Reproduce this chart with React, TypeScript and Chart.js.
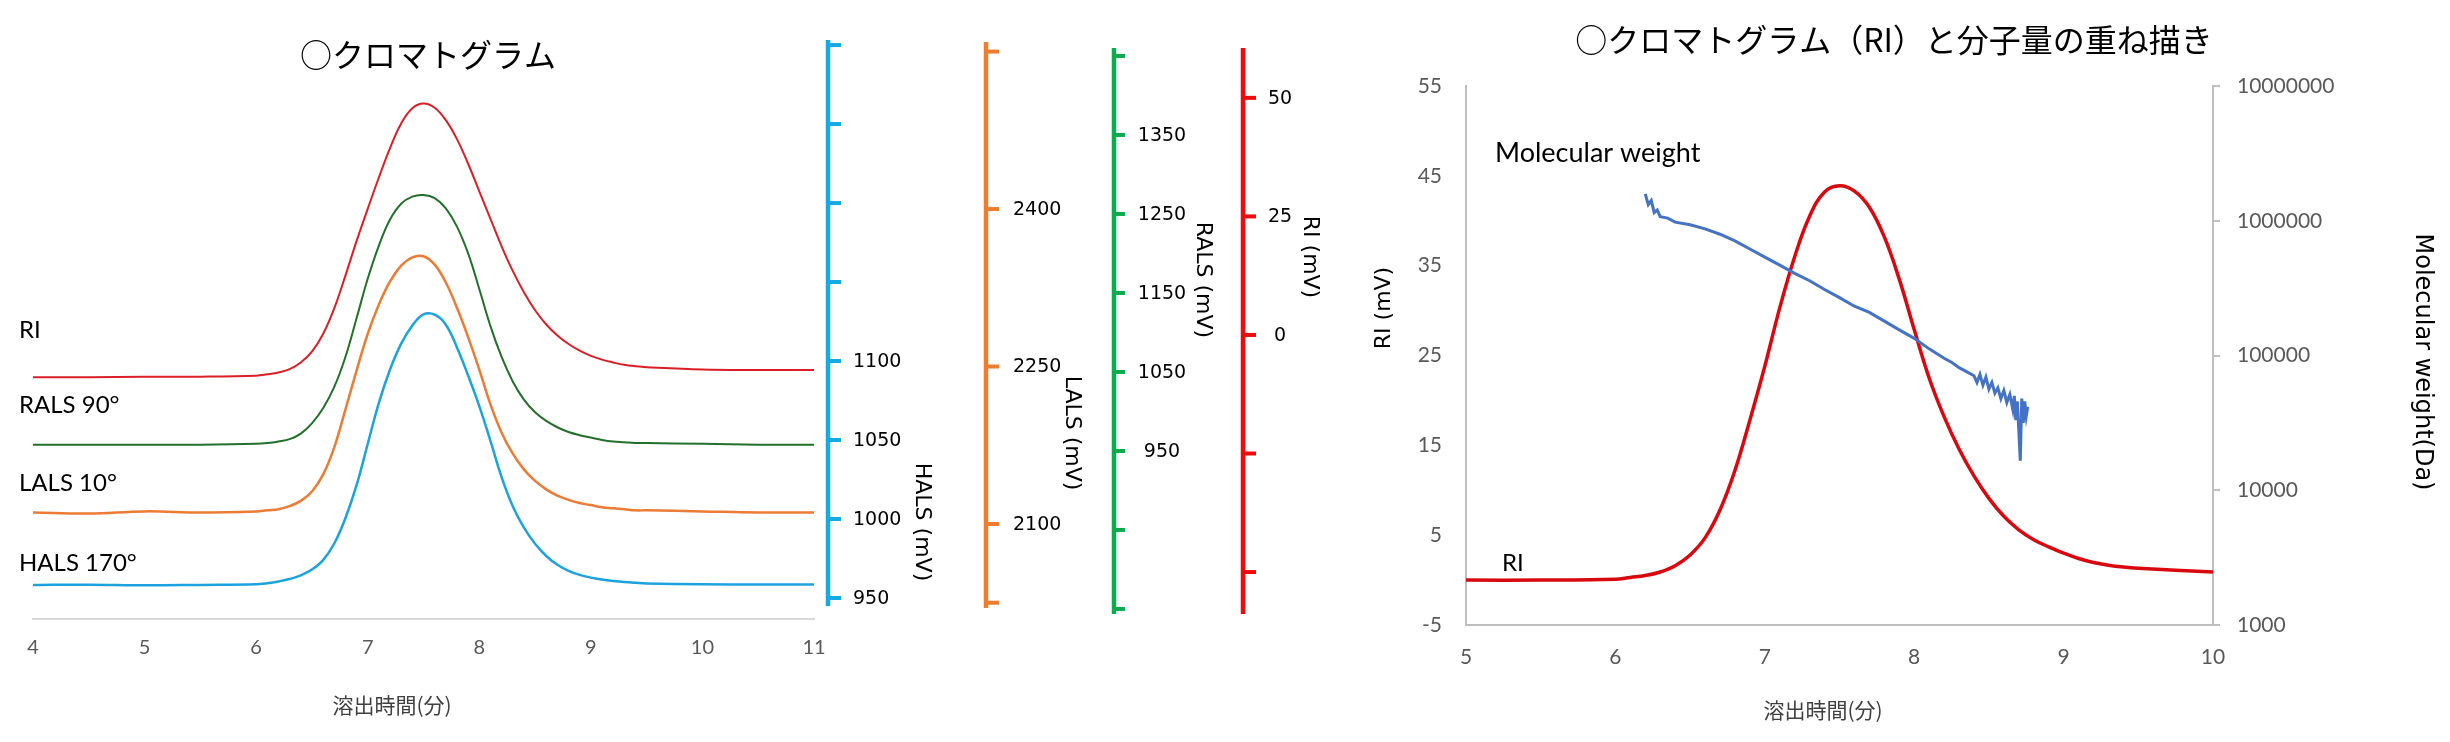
import React, { useEffect, useRef } from "react";
import { Chart, registerables } from "chart.js";

Chart.register(...registerables);

// ---- left panel: four detector traces (elution time, min) ----
const elutionTimes = [
  4.0, 4.5, 5.0, 5.5, 6.0, 6.1, 6.2, 6.3, 6.4, 6.5, 6.6, 6.7, 6.8, 6.9, 7.0,
  7.1, 7.2, 7.3, 7.4, 7.5, 7.6, 7.7, 7.8, 7.9, 8.0, 8.1, 8.2, 8.3, 8.4, 8.5,
  8.6, 8.7, 8.8, 8.9, 9.0, 9.1, 9.2, 9.3, 9.4, 9.5, 10.0, 10.5, 11.0,
];
const riSignal = [
  -8.9, -8.9, -8.8, -8.8, -8.6, -8.3, -7.9, -7.2, -5.8, -3.5, 0.2, 5.6, 12.5, 19.8, 26.6,
  33.2, 39.4, 44.6, 47.8, 48.8, 47.9, 45.3, 41.3, 36.1, 30.3, 24.5, 18.7, 13.5, 9.0, 5.2,
  2.2, -0.1, -1.9, -3.3, -4.4, -5.2, -5.8, -6.3, -6.6, -6.8, -7.3, -7.4, -7.4,
];
const ralsSignal = [
  958, 958, 958, 958, 959, 960, 962, 965, 972, 985, 1004, 1031, 1069, 1118, 1168,
  1210, 1243, 1263, 1272, 1274, 1270, 1257, 1234, 1200, 1155, 1108, 1069, 1038, 1015, 999,
  988, 980, 974, 970, 967, 964, 962, 961, 960, 960, 959, 958, 958,
];
const lalsSignal = [
  2111, 2110, 2112, 2111, 2112, 2113, 2114, 2117, 2122, 2131, 2147, 2173, 2209, 2246, 2281,
  2309, 2331, 2346, 2354, 2355, 2347, 2330, 2306, 2278, 2247, 2214, 2187, 2167, 2152, 2141,
  2133, 2127, 2123, 2120, 2118, 2116, 2115, 2114, 2113, 2113, 2112, 2111, 2111,
];
const halsSignal = [
  958.2, 958.4, 958.0, 958.3, 958.7, 959.4, 960.5, 962.0, 964.3, 968.0, 974.0, 984.5, 1000.5, 1021.4, 1047.5,
  1073.5, 1094.6, 1111.0, 1122.5, 1129.5, 1129.3, 1123.0, 1108.6, 1090.8, 1071.5, 1049.5, 1026.5, 1008.0, 994.5, 984.3,
  976.6, 971.0, 967.2, 964.6, 962.9, 961.7, 960.8, 960.1, 959.6, 959.2, 958.7, 958.5, 958.5,
];
const seriesNames = ["RI", "RALS 90°", "LALS 10°", "HALS 170°"];

// detector axes: tick positions and the ones that carry a label
const halsTicks = [950, 1000, 1050, 1100, 1150, 1200, 1250, 1300];
const halsLabels = [950, 1000, 1050, 1100];
const lalsTicks = [2025, 2100, 2250, 2400, 2550];
const lalsLabels = [2100, 2250, 2400];
const ralsTicks = [750, 850, 950, 1050, 1150, 1250, 1350, 1450];
const ralsLabels = [950, 1050, 1150, 1250, 1350];
const riTicks = [-50, -25, 0, 25, 50];
const riLabels = [0, 25, 50];

// ---- right panel: RI overlaid with molecular weight ----
const overlayTimes = [
  5.0, 5.5, 6.0, 6.1, 6.2, 6.3, 6.4, 6.5, 6.6, 6.7, 6.8, 6.9, 7.0, 7.1, 7.2,
  7.3, 7.4, 7.5, 7.6, 7.7, 7.8, 7.9, 8.0, 8.1, 8.2, 8.3, 8.4, 8.5, 8.6, 8.7,
  8.8, 8.9, 9.0, 9.1, 9.2, 9.3, 9.4, 9.5, 10.0,
];
const overlayRi = [
  0.0, 0.0, 0.1, 0.3, 0.5, 0.9, 1.6, 2.8, 4.7, 7.8, 12.2, 17.8, 23.8, 30.3, 36.0,
  40.5, 43.2, 43.9, 43.3, 41.5, 38.2, 33.5, 27.9, 22.5, 18.2, 14.6, 11.6, 9.1, 7.1, 5.6,
  4.5, 3.7, 3.0, 2.4, 1.95, 1.65, 1.45, 1.32, 0.9,
];
const mwTimes = [
  6.20, 6.22, 6.24, 6.26, 6.28, 6.30, 6.35, 6.40, 6.50, 6.60, 6.70, 6.80, 6.90, 7.00,
  7.10, 7.20, 7.30, 7.40, 7.50, 7.60, 7.70, 7.80, 7.90, 8.00, 8.10, 8.20, 8.25, 8.30,
  8.35, 8.40, 8.42, 8.44, 8.46, 8.48, 8.50, 8.52, 8.54, 8.56, 8.58, 8.60, 8.62, 8.64,
  8.66, 8.67, 8.68, 8.69, 8.70, 8.71, 8.72, 8.73, 8.74, 8.75, 8.76,
];
const mwValues = [
  1585000, 1318000, 1413000, 1148000, 1202000, 1072000, 1047000, 977000, 933000, 871000, 794000, 708000, 617000, 537000,
  468000, 407000, 359000, 309000, 269000, 232000, 209000, 180000, 155000, 134000, 112000, 95500, 89100, 81300,
  75900, 70800, 63100, 72400, 60300, 69200, 56200, 63100, 52500, 57500, 47900, 55000, 44700, 51300,
  39800, 50100, 33100, 45700, 28200, 16600, 47900, 31600, 45700, 35500, 41700,
];
const mwTicks = [1000, 10000, 100000, 1000000, 10000000];

const TITLE_LEFT = "○クロマトグラム";
const TITLE_RIGHT = "○クロマトグラム（RI）と分子量の重ね描き";
const X_TITLE = "溶出時間(分)";

const JP = '"Noto Sans CJK JP", sans-serif';
const LATIN = 'Lato, "Noto Sans", sans-serif';
const DEJAVU = '"DejaVu Sans", sans-serif';

const pts = (xs: number[], ys: number[]) => xs.map((x, i) => ({ x, y: ys[i] }));

type TextItem = {
  text: string;
  x: number;
  y: number;
  font: string;
  color?: string;
  align?: CanvasTextAlign;
  rotate?: number;
};

const textPlugin = (id: string, items: TextItem[]) => ({
  id,
  afterDraw(chart: any) {
    const ctx = chart.ctx as CanvasRenderingContext2D;
    items.forEach((t) => {
      ctx.save();
      ctx.translate(t.x, t.y);
      if (t.rotate) ctx.rotate((t.rotate * Math.PI) / 180);
      ctx.font = t.font;
      ctx.fillStyle = t.color || "#000";
      ctx.textAlign = t.align || "center";
      ctx.textBaseline = "middle";
      ctx.fillText(t.text, 0, 0);
      ctx.restore();
    });
  },
});

// the coloured detector axes, drawn through the (hidden) chart.js y scales
const detectorAxes = [
  { id: "yHals", color: "#14AAE6", x: 828, top: 40, bottom: 606, ticks: halsTicks, labels: halsLabels, tickLen: 13, labelX: 853, align: "left", title: "HALS (mV)", titleX: 922, titleY: 522 },
  { id: "yLals", color: "#ED7D31", x: 986, top: 42, bottom: 608, ticks: lalsTicks, labels: lalsLabels, tickLen: 13, labelX: 1013, align: "left", title: "LALS (mV)", titleX: 1072, titleY: 433 },
  { id: "yRals", color: "#0DAA4F", x: 1114, top: 48, bottom: 614, ticks: ralsTicks, labels: ralsLabels, tickLen: 11, labelX: 1162, align: "center", title: "RALS (mV)", titleX: 1203, titleY: 280 },
  { id: "yRi", color: "#EE0B0B", x: 1243, top: 48, bottom: 614, ticks: riTicks, labels: riLabels, tickLen: 13, labelX: 1280, align: "center", title: "RI (mV)", titleX: 1310, titleY: 257 },
];

const detectorAxesPlugin = {
  id: "detectorAxes",
  afterDraw(chart: any) {
    const ctx = chart.ctx as CanvasRenderingContext2D;
    detectorAxes.forEach((ax) => {
      const scale = chart.scales[ax.id];
      ctx.save();
      ctx.strokeStyle = ax.color;
      ctx.lineWidth = 4.5;
      ctx.beginPath();
      ctx.moveTo(ax.x, ax.top);
      ctx.lineTo(ax.x, ax.bottom);
      ctx.stroke();
      ctx.lineWidth = 4;
      ax.ticks.forEach((v) => {
        const y = scale.getPixelForValue(v);
        ctx.beginPath();
        ctx.moveTo(ax.x, y);
        ctx.lineTo(ax.x + ax.tickLen, y);
        ctx.stroke();
      });
      ctx.fillStyle = "#000";
      ctx.font = `19px ${DEJAVU}`;
      ctx.textAlign = ax.align as CanvasTextAlign;
      ctx.textBaseline = "middle";
      ax.labels.forEach((v) => {
        ctx.fillText(String(v), ax.labelX, scale.getPixelForValue(v) + 1);
      });
      ctx.translate(ax.titleX, ax.titleY);
      ctx.rotate(Math.PI / 2);
      ctx.font = `22px ${DEJAVU}`;
      ctx.textAlign = "center";
      ctx.fillText(ax.title, 0, 0);
      ctx.restore();
    });
  },
};

function DetectorChart() {
  const canvasRef = useRef<HTMLCanvasElement>(null);

  useEffect(() => {
    if (!canvasRef.current) return;
    const line = (data: number[], yAxisID: string, color: string, width: number) => ({
      data: pts(elutionTimes, data),
      yAxisID,
      borderColor: color,
      borderWidth: width,
      pointRadius: 0,
      tension: 0.4,
      fill: false,
    });
    const chart = new Chart(canvasRef.current, {
      type: "line",
      data: {
        datasets: [
          { label: seriesNames[0], ...line(riSignal, "yRi", "#DA1F26", 2) },
          { label: seriesNames[1], ...line(ralsSignal, "yRals", "#23702A", 2) },
          { label: seriesNames[2], ...line(lalsSignal, "yLals", "#EB7B35", 2.5) },
          { label: seriesNames[3], ...line(halsSignal, "yHals", "#1CA3DE", 2.5) },
        ],
      },
      options: {
        responsive: false,
        animation: false,
        events: [],
        layout: { padding: { left: 33, right: 526, top: 40, bottom: 0 } },
        plugins: { legend: { display: false }, tooltip: { enabled: false } },
        scales: {
          x: {
            type: "linear",
            min: 4,
            max: 11,
            ticks: { stepSize: 1, color: "#595959", font: { family: LATIN, size: 20 }, padding: 17 },
            grid: { display: false, drawTicks: false },
            border: { color: "#D9D9D9", width: 2 },
            afterFit: (s: any) => { s.height = 123; },
          },
          yHals: { type: "linear", display: false, min: 936.7, max: 1303.2 },
          yLals: { type: "linear", display: false, min: 2009.5, max: 2561.0 },
          yRals: { type: "linear", display: false, min: 737.3, max: 1470.2 },
          yRi: { type: "linear", display: false, min: -59.9, max: 62.2 },
        },
      },
      plugins: [
        detectorAxesPlugin,
        textPlugin("leftTexts", [
          { text: TITLE_LEFT, x: 428, y: 55, font: `32px ${JP}` },
          { text: seriesNames[0], x: 19, y: 330, font: `24px ${LATIN}`, align: "left" },
          { text: seriesNames[1], x: 19, y: 405, font: `24px ${LATIN}`, align: "left" },
          { text: seriesNames[2], x: 19, y: 483, font: `24px ${LATIN}`, align: "left" },
          { text: seriesNames[3], x: 19, y: 563, font: `24px ${LATIN}`, align: "left" },
          { text: X_TITLE, x: 392, y: 705, font: `21px ${JP}`, color: "#404040" },
        ]),
      ],
    } as any);
    return () => chart.destroy();
  }, []);

  return (
    <canvas
      ref={canvasRef}
      width={1340}
      height={742}
      style={{ position: "absolute", left: 0, top: 0 }}
    />
  );
}

function OverlayChart() {
  const canvasRef = useRef<HTMLCanvasElement>(null);

  useEffect(() => {
    if (!canvasRef.current) return;
    const chart = new Chart(canvasRef.current, {
      type: "line",
      data: {
        datasets: [
          {
            label: "Molecular weight",
            data: pts(mwTimes, mwValues),
            yAxisID: "yMw",
            borderColor: "#4472C4",
            borderWidth: 3,
            pointRadius: 0,
            tension: 0,
          },
          {
            label: "RI",
            data: pts(overlayTimes, overlayRi),
            yAxisID: "yRi",
            borderColor: "#D9080F",
            borderWidth: 3.5,
            pointRadius: 0,
            tension: 0.4,
          },
        ],
      },
      options: {
        responsive: false,
        animation: false,
        events: [],
        layout: { padding: { left: 0, right: 0, top: 86, bottom: 0 } },
        plugins: { legend: { display: false }, tooltip: { enabled: false } },
        scales: {
          x: {
            type: "linear",
            min: 5,
            max: 10,
            ticks: { stepSize: 1, color: "#595959", font: { family: LATIN, size: 21 }, padding: 20 },
            grid: { display: false, drawTicks: false },
            border: { color: "#BFBFBF", width: 2 },
            afterFit: (s: any) => { s.height = 117; },
          },
          yRi: {
            type: "linear",
            position: "left",
            min: -5,
            max: 55,
            ticks: { stepSize: 10, color: "#595959", font: { family: LATIN, size: 21 }, padding: 24 },
            grid: { display: false, drawTicks: false },
            border: { color: "#BFBFBF", width: 2 },
            afterFit: (s: any) => { s.width = 126; },
          },
          yMw: {
            type: "logarithmic",
            position: "right",
            min: 1000,
            max: 10000000,
            afterBuildTicks: (s: any) => { s.ticks = mwTicks.map((value) => ({ value })); },
            ticks: {
              color: "#595959",
              font: { family: LATIN, size: 21 },
              padding: 17,
              callback: (v: any) => String(v),
            },
            grid: { display: true, drawOnChartArea: false, drawTicks: true, tickLength: 7, color: "#BFBFBF", lineWidth: 2 },
            border: { color: "#BFBFBF", width: 2 },
            afterFit: (s: any) => { s.width = 237; },
          },
        },
      },
      plugins: [
        textPlugin("rightTexts", [
          { text: TITLE_RIGHT, x: 554, y: 40, font: `32px ${JP}` },
          { text: "RI (mV)", x: 44, y: 308, font: `22px ${DEJAVU}`, rotate: -90 },
          { text: "Molecular weight(Da)", x: 1082, y: 362, font: `24px ${DEJAVU}`, rotate: 90 },
          { text: "Molecular weight", x: 155, y: 153, font: `27px ${LATIN}`, align: "left" },
          { text: "RI", x: 162, y: 563, font: `24px ${LATIN}`, align: "left" },
          { text: X_TITLE, x: 483, y: 710, font: `21px ${JP}`, color: "#404040" },
        ]),
      ],
    } as any);
    return () => chart.destroy();
  }, []);

  return (
    <canvas
      ref={canvasRef}
      width={1110}
      height={742}
      style={{ position: "absolute", left: 1340, top: 0 }}
    />
  );
}

export default function App() {
  return (
    <div
      style={{
        position: "absolute",
        left: 0,
        top: 0,
        width: 2450,
        height: 742,
        background: "#fff",
        overflow: "hidden",
      }}
    >
      <DetectorChart />
      <OverlayChart />
    </div>
  );
}
